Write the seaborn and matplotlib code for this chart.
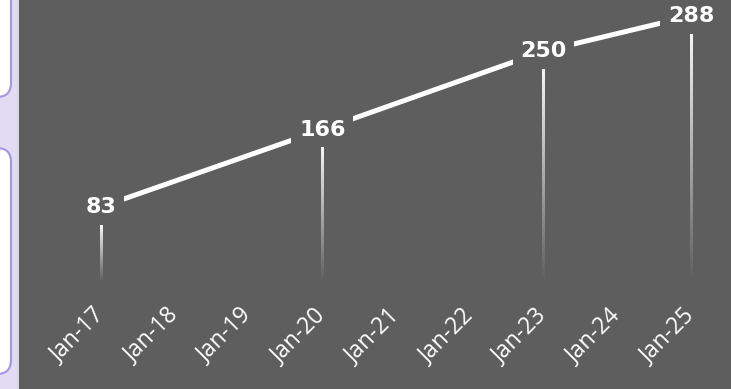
import numpy as np
import pandas as pd
import seaborn as sns
import matplotlib.pyplot as plt
from matplotlib.patches import FancyBboxPatch, Rectangle
from matplotlib.transforms import IdentityTransform

# ---- data ----
tick_labels = ["Jan-17", "Jan-18", "Jan-19", "Jan-20", "Jan-21",
               "Jan-22", "Jan-23", "Jan-24", "Jan-25"]
point_idx = [0, 3, 6, 8]
values = [83, 166, 250, 288]

sns.set_theme(style="white")
plt.rcParams['font.family'] = ['Open Sans', 'DejaVu Sans']

W, H = 731, 389
gray = '#5e5e5e'
fig = plt.figure(figsize=(W / 100, H / 100), dpi=100, facecolor='#e2dbf4')

# background panels
fig.patches.append(Rectangle((19 / W, 0), 1, 1, transform=fig.transFigure,
                             facecolor=gray, edgecolor='none', zorder=-2))
fig.patches.append(Rectangle((17, 0), 2, H, transform=IdentityTransform(),
                             facecolor='#d9d9d9', edgecolor='none', zorder=-2))
for top, bottom in [(-40, 97), (148, 374)]:
    fig.patches.append(FancyBboxPatch((-40, H - bottom), 51, bottom - top,
                                      boxstyle='round,pad=0,rounding_size=14',
                                      transform=IdentityTransform(),
                                      facecolor='white', edgecolor='#a597e3',
                                      linewidth=1.5, zorder=-2))

ax = fig.add_axes([19 / W, 99 / H, (W - 19) / W, 290 / H])
ax.set_facecolor(gray)
ax.set_zorder(1)

df = pd.DataFrame({'idx': point_idx, 'value': values})
sns.lineplot(data=df, x='idx', y='value', color='white', linewidth=3.6,
             ax=ax, zorder=2)

grad = np.ones((256, 1, 4))
grad[:, 0, 3] = np.linspace(0.95, 0.0, 256)
for i, v in zip(point_idx, values):
    ax.imshow(grad, extent=[i - 0.018, i + 0.018, 2, v - 20], aspect='auto',
              origin='upper', zorder=3, interpolation='bilinear')
    ax.text(i, v, str(v), ha='center', va='center', fontsize=16,
            fontweight='bold', color='white', zorder=4, family='DejaVu Sans',
            bbox=dict(boxstyle='square,pad=0.35', fc=gray, ec='none'))

ax.set_xlim(-1.112, 8.542)
ax.set_ylim(-6.1, 305)
ax.set_xticks(range(len(tick_labels)))
ax.set_xticklabels(tick_labels, rotation=45, ha='right', va='center',
                   rotation_mode='anchor', color='white', fontsize=16.5)
for t in ax.get_xticklabels():
    t.set_fontfamily(['Open Sans', 'DejaVu Sans'])
ax.tick_params(axis='x', length=0, pad=16)
ax.set_yticks([])
ax.set_xlabel('')
ax.set_ylabel('')
for s in ax.spines.values():
    s.set_visible(False)

fig.savefig('out.png', dpi=100, facecolor=fig.get_facecolor())
